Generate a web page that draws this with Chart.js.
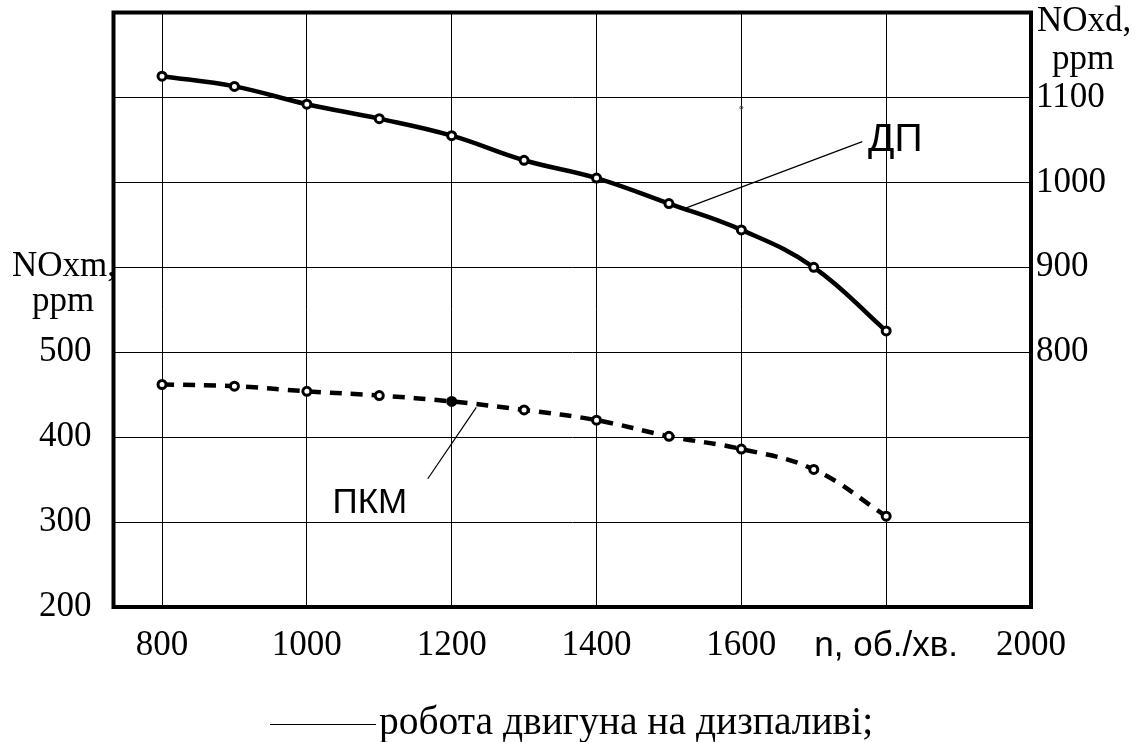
<!DOCTYPE html>
<html>
<head>
<meta charset="utf-8">
<script src="https://cdn.jsdelivr.net/npm/chart.js@4.4.1/dist/chart.umd.min.js"></script>
<style>
  html, body { margin: 0; padding: 0; background: #ffffff; }
  #wrap { width: 1143px; height: 742px; }
</style>
</head>
<body>
<div id="wrap"><canvas id="c" width="1143" height="742"></canvas></div>
<script>
// ---- data ----
const rpm = [800, 900, 1000, 1100, 1200, 1300, 1400, 1500, 1600, 1700, 1800];
const noxDiesel = [1125, 1113, 1092, 1075, 1055, 1026, 1005, 975, 944, 900, 825];   // ДП, right axis
const noxPKM = [462, 460, 454, 449, 442, 432, 420, 401, 386, 362, 307];             // ПКМ, left axis
const xTickValues = [800, 1000, 1200, 1400, 1600, 1800, 2000];
const xTickLabels = ['800', '1000', '1200', '1400', '1600', 'n, об./хв.', '2000'];
const leftTickValues = [200, 300, 400, 500, 600, 700, 800];
const leftTickLabels = ['200', '300', '400', '500', '', '', ''];
const rightTickValues = [800, 900, 1000, 1100];
const rightTickLabels = ['800', '900', '1000', '1100'];
const legendText = 'робота двигуна на дизпаливі;';

const SERIF = 'Liberation Serif';
const SANS = 'Liberation Sans';

const toXY = (xs, ys) => xs.map((x, i) => ({ x: x, y: ys[i] }));

const noPad = (s) => { s.paddingTop = 0; s.paddingBottom = 0; s.paddingLeft = 0; s.paddingRight = 0; };

const framePlugin = {
  id: 'frame',
  afterDraw(chart) {
    const ctx = chart.ctx;
    const a = chart.chartArea;
    const xs = chart.scales.x, yl = chart.scales.y, yr = chart.scales.y2;
    ctx.save();
    // thick frame
    ctx.strokeStyle = '#000';
    ctx.lineWidth = 4;
    ctx.strokeRect(a.left, a.top, a.right - a.left, a.bottom - a.top);

    // tiny stray mark
    ctx.lineWidth = 1;
    ctx.strokeStyle = '#555';
    ctx.beginPath();
    ctx.arc(xs.getPixelForValue(1600), yr.getPixelForValue(1088), 1.5, 0, Math.PI * 2);
    ctx.stroke();

    // leader lines
    ctx.strokeStyle = '#000';
    ctx.lineWidth = 1.2;
    ctx.beginPath();
    ctx.moveTo(xs.getPixelForValue(1524), yr.getPixelForValue(970));
    ctx.lineTo(xs.getPixelForValue(1767), yr.getPixelForValue(1048));
    ctx.moveTo(xs.getPixelForValue(1234), yl.getPixelForValue(435));
    ctx.lineTo(xs.getPixelForValue(1167), yl.getPixelForValue(351));
    ctx.stroke();

    // series labels
    ctx.fillStyle = '#000';
    ctx.textBaseline = 'middle';
    ctx.textAlign = 'left';
    ctx.font = '39px "' + SANS + '"';
    ctx.fillText('ДП', xs.getPixelForValue(1775), yr.getPixelForValue(1050));
    ctx.textAlign = 'center';
    ctx.font = '35px "' + SANS + '"';
    ctx.fillText('ПКМ', xs.getPixelForValue(1087), yl.getPixelForValue(322));

    // axis titles
    ctx.font = '35px "' + SERIF + '"';
    ctx.textAlign = 'left';
    ctx.fillText('NOxm,', 12, yl.getPixelForValue(600));
    ctx.fillText('ppm', 32, 302);
    ctx.fillText('NOxd,', 1037, 22);
    ctx.fillText('ppm', 1052, 60);

    // legend
    ctx.lineWidth = 1;
    ctx.beginPath();
    ctx.moveTo(270, 724.5);
    ctx.lineTo(376, 724.5);
    ctx.stroke();
    ctx.textBaseline = 'alphabetic';
    ctx.font = '39.5px "' + SERIF + '"';
    ctx.fillText(legendText, 379, 734);
    ctx.restore();
  }
};

new Chart(document.getElementById('c'), {
  type: 'line',
  data: {
    datasets: [
      {
        label: 'ДП',
        data: toXY(rpm, noxDiesel),
        yAxisID: 'y2',
        borderColor: '#000',
        borderWidth: 4.5,
        tension: 0.4,
        pointRadius: 4,
        pointBorderWidth: 3,
        pointBorderColor: '#000',
        pointBackgroundColor: '#fff',
        fill: false
      },
      {
        label: 'ПКМ',
        data: toXY(rpm, noxPKM),
        yAxisID: 'y',
        borderColor: '#000',
        borderWidth: 4.5,
        borderDash: [12, 9],
        tension: 0.4,
        pointRadius: 4,
        pointBorderWidth: 3,
        pointBorderColor: '#000',
        pointBackgroundColor: (c) => (c.dataIndex === 4 ? '#000' : '#fff'),
        fill: false
      }
    ]
  },
  options: {
    responsive: false,
    animation: false,
    layout: { padding: { top: 12.5, left: 0, right: 0, bottom: 0 } },
    plugins: { legend: { display: false }, tooltip: { enabled: false } },
    scales: {
      x: {
        type: 'linear',
        min: 733,
        max: 2000,
        afterBuildTicks: (s) => { s.ticks = xTickValues.map(v => ({ value: v })); },
        afterFit: (s) => { s.height = 135; noPad(s); },
        ticks: {
          color: '#000',
          padding: 18,
          maxRotation: 0,
          autoSkip: false,
          font: (c) => (c.tick && c.tick.value === 1800)
            ? { family: SANS, size: 35 }
            : { family: SERIF, size: 35 },
          callback: (v) => { const i = xTickValues.indexOf(v); return i >= 0 ? xTickLabels[i] : ''; }
        },
        grid: { color: (c) => (c.tick && c.tick.value >= 2000 ? 'rgba(0,0,0,0)' : '#000'), lineWidth: 1, drawTicks: false },
        border: { display: false }
      },
      y: {
        type: 'linear',
        position: 'left',
        min: 200,
        max: 900,
        afterBuildTicks: (s) => { s.ticks = leftTickValues.map(v => ({ value: v })); },
        afterFit: (s) => { s.width = 113.5; noPad(s); },
        ticks: {
          color: '#000',
          padding: 22,
          autoSkip: false,
          font: { family: SERIF, size: 35 },
          callback: (v) => { const i = leftTickValues.indexOf(v); return i >= 0 ? leftTickLabels[i] : ''; }
        },
        grid: { color: '#000', lineWidth: 1, drawTicks: false },
        border: { display: false }
      },
      y2: {
        type: 'linear',
        position: 'right',
        min: 500,
        max: 1200,
        afterBuildTicks: (s) => { s.ticks = rightTickValues.map(v => ({ value: v })); },
        afterFit: (s) => { s.width = 112; noPad(s); },
        ticks: {
          color: '#000',
          padding: 5,
          autoSkip: false,
          font: { family: SERIF, size: 35 },
          callback: (v) => { const i = rightTickValues.indexOf(v); return i >= 0 ? rightTickLabels[i] : ''; }
        },
        grid: { display: false, drawTicks: false },
        border: { display: false }
      }
    }
  },
  plugins: [framePlugin]
});
</script>
</body>
</html>
